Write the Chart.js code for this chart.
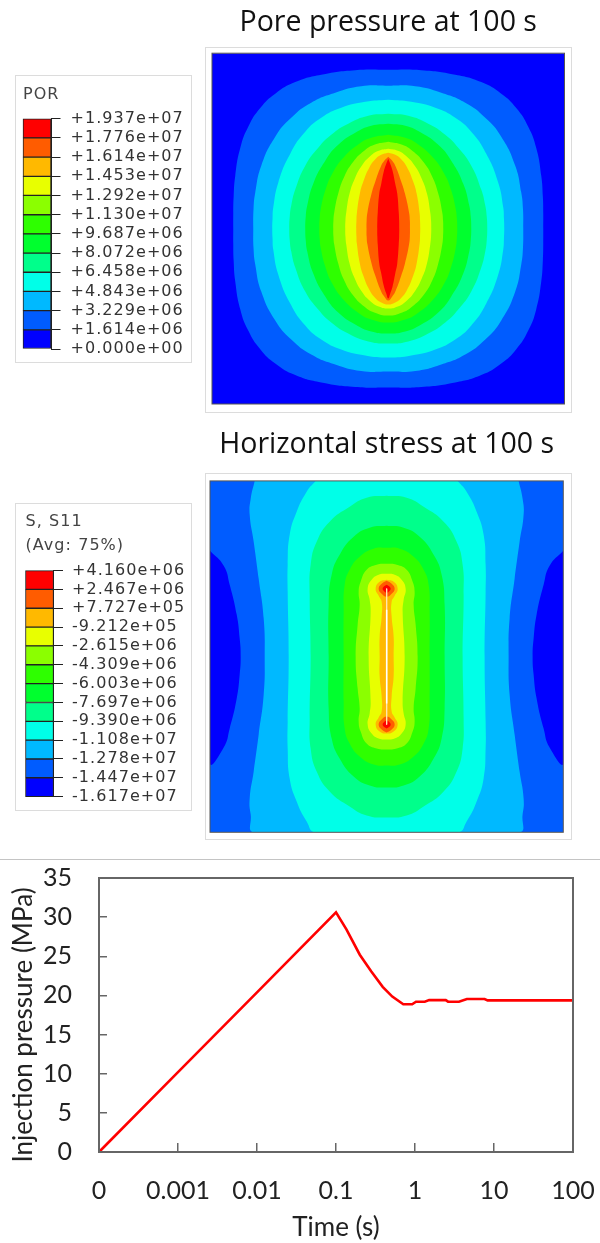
<!DOCTYPE html>
<html>
<head>
<meta charset="utf-8">
<title>Pore pressure, stress and injection pressure</title>
<script src="https://cdn.jsdelivr.net/npm/chart.js@4"></script>
<style>
  html, body { margin: 0; padding: 0; background: #fff; }
  #page { position: relative; width: 600px; height: 1243px; overflow: hidden; background: #fff; }
  #page canvas { position: absolute; }
  .frame { position: absolute; box-sizing: border-box; border: 1px solid #dcdcdc; }
  #rule { position: absolute; left: 0; top: 859px; width: 600px; height: 1px; background: #c4c4c4; }
</style>
</head>
<body>
<div id="page">
  <div class="frame" style="left:15px;top:75px;width:177px;height:288px"></div>
  <div class="frame" style="left:205px;top:47px;width:367px;height:366px"></div>
  <div class="frame" style="left:15px;top:503px;width:177px;height:308px"></div>
  <div class="frame" style="left:205px;top:473px;width:367px;height:367px"></div>
  <div id="rule"></div>
  <canvas id="por-legend" width="177" height="288" style="left:15px;top:75px"></canvas>
  <canvas id="por-plot" width="367" height="413" style="left:205px;top:0"></canvas>
  <canvas id="s11-legend" width="177" height="308" style="left:15px;top:503px"></canvas>
  <canvas id="s11-plot" width="367" height="415" style="left:205px;top:425px"></canvas>
  <canvas id="pressure" width="600" height="383" style="left:0;top:860px"></canvas>
</div>
<script>
// legend levels, low to high
const porLevels = ['+0.000e+00', '+1.614e+06', '+3.229e+06', '+4.843e+06', '+6.458e+06', '+8.072e+06', '+9.687e+06',
  '+1.130e+07', '+1.292e+07', '+1.453e+07', '+1.614e+07', '+1.776e+07', '+1.937e+07'];
const s11Levels = ['-1.617e+07', '-1.447e+07', '-1.278e+07', '-1.108e+07', '-9.390e+06', '-7.697e+06', '-6.003e+06',
  '-4.309e+06', '-2.615e+06', '-9.212e+05', '+7.727e+05', '+2.467e+06', '+4.160e+06'];
const bandColors = ['#0000ff', '#005cff', '#00b9ff', '#00ffe8', '#00ff8b', '#00ff2e', '#2eff00', '#8bff00', '#e8ff00', '#ffb900', '#ff5c00', '#ff0000'];

// contour outlines, one quarter of the plate (x, y from the plate centre)
const porPlate = [[176.25, 175.5]];
const por1 = [[0, 159], [33, 158.5], [67, 154], [93, 146.6], [113, 135], [128, 120.7], [140, 102], [148, 80.6], [153, 53], [154.6, 32], [155, 15], [155, 0]];
const por2 = [[0, 143], [27, 142.5], [53, 136], [77, 126], [97, 111], [113, 92], [127, 63], [133, 36], [134.7, 20], [135, 0]];
const por3 = [[0, 129], [23, 127], [47, 121], [67, 111], [83, 97], [98, 75], [110, 46], [115, 21], [115.7, 10], [116, 0]];
const por4 = [[0, 115], [20, 113], [40, 105], [57, 94], [70, 81], [83, 63], [93, 39], [97, 23], [98.5, 12], [99, 0]];
const por5 = [[0, 105], [17, 103], [33, 96], [50, 84], [63, 68], [75, 45], [81, 23], [82.5, 12], [83, 0]];
const por6 = [[0, 94], [17, 91], [29, 85], [44, 72], [56, 55], [63, 38], [67.4, 20], [68.6, 10], [69, 0]];
const por7 = [[0, 87], [14, 84], [24, 78], [35, 67], [44, 52], [50, 35], [54, 16], [54.8, 8], [55, 0]];
const por8 = [[0, 80], [9.5, 78], [17.6, 73], [26.5, 63], [33.5, 50], [38.7, 35], [42, 16], [42.8, 8], [43, 0]];
const por9 = [[0, 76], [7, 74], [12.5, 70], [18.5, 62], [25, 47], [28.4, 35], [31.4, 15], [31.8, 8], [32, 0]];
const por10 = [[0, 72], [4, 68], [7.5, 62], [13, 47], [16.7, 35], [20.8, 16], [21.6, 8], [21.7, 0]];
const por11 = [[0, 70], [2, 65], [4.3, 58], [7, 45], [9, 35], [10.5, 16], [10.9, 8], [11, 0]];

const s11Plate = [[176.7, 175.8]];
const s11Lobe = [[176.7, 106], [163, 91], [157, 72], [150, 42], [147, 18], [146, 0]];
const s11Band2 = [[132, 175.8], [136, 158], [137, 142], [133, 115], [128, 78], [123, 38], [122, 0]];
const s11Band3 = [[71, 175.8], [80, 165], [90, 145], [97, 122], [99, 92], [99, 65], [98, 0]];
const s11Band4 = [[0, 161], [20, 159], [37, 150], [57, 135], [70, 115], [76, 92], [77, 62], [76, 0]];
const s11Band5 = [[0, 131], [17, 129], [33, 120], [47, 102], [55, 82], [58, 52], [58, 0]];
const s11Band6 = [[0, 109], [13, 108], [27, 100], [37, 87], [42, 72], [43, 45], [43, 0]];
const s11Band7 = [[0, 93], [10, 92], [20, 87], [26, 75], [28, 65], [27, 52], [29, 32], [31, 0]];
const s11Band8 = [[0, 83], [8, 82], [15, 77], [19, 68], [17, 57], [16, 45], [18, 0]];
const s11Band9 = [[0, 77], [7, 75], [11, 68], [8, 61], [5, 55], [5, 40], [7, 20], [7, 0]];
// fracture tips, right half of the outline
const s11Tip10 = [[0, 76], [5, 73], [8, 68], [5, 63], [0, 60]];
const s11Tip11 = [[0, 72], [3, 70], [4, 68], [3, 66], [0, 64]];
const s11Slit = [[0, 68], [0, -68]];
const s11SlitOpen = [[0, 47], [0, -47]];

// injection pressure curve
const timeTicks = [0.0001, 0.001, 0.01, 0.1, 1, 10, 100];
const timeLabels = ['0', '0.001', '0.01', '0.1', '1', '10', '100'];
const times = [0.0001, 0.001, 0.01, 0.1, 0.136, 0.2, 0.28, 0.39, 0.516, 0.711, 0.92, 1.03, 1.33, 1.51, 2.45, 2.62, 3.6, 4.54, 7.6, 8.3, 100];
const pressures = [0, 10.2, 20.4, 30.6, 28.4, 25.2, 23.05, 21.1, 19.85, 18.87, 18.87, 19.2, 19.2, 19.4, 19.4, 19.2, 19.2, 19.55, 19.55, 19.37, 19.37];

function toPoints(list) {
  return list.map(p => ({x: p[0], y: p[1]}));
}

// quarter outline -> closed outline, mirrored in both axes
function ring(quarter) {
  const q1 = quarter.map(p => [p[0], p[1]]);
  const q4 = quarter.filter(p => p[1] !== 0).reverse().map(p => [p[0], -p[1]]);
  const right = q1.concat(q4);
  const left = right.filter(p => p[0] !== 0).reverse().map(p => [-p[0], p[1]]);
  const all = right.concat(left);
  if (quarter[0][0] === 0) all.push(all[0]);
  return all;
}

// right half of an outline -> closed outline, mirrored in x
function loop(half, flip) {
  const left = half.filter(p => p[0] !== 0).reverse().map(p => [-p[0], p[1]]);
  const all = half.concat(left);
  all.push(all[0]);
  return flip ? all.map(p => [p[0], -p[1]]) : all;
}

function band(list, color) {
  return {
    data: toPoints(list),
    showLine: true,
    fill: 'shape',
    tension: 0.5,
    backgroundColor: color,
    borderWidth: 0,
    pointRadius: 0
  };
}

function slit(list, color, width) {
  return {data: toPoints(list), showLine: true, borderColor: color, borderWidth: width, pointRadius: 0};
}

const boxBorder = {
  id: 'boxBorder',
  afterDraw(chart, args, opts) {
    const a = chart.chartArea;
    chart.ctx.save();
    chart.ctx.strokeStyle = opts.color;
    chart.ctx.lineWidth = opts.width;
    chart.ctx.strokeRect(a.left, a.top, a.right - a.left, a.bottom - a.top);
    chart.ctx.restore();
  }
};

const spacedText = {
  id: 'spacedText',
  beforeDraw(chart) { chart.ctx.letterSpacing = '1.05px'; }
};

function contourChart(id, title, plate, datasets, padding, titlePadding) {
  return new Chart(document.getElementById(id), {
    type: 'scatter',
    // first dataset is painted last, so the innermost band goes first
    data: {datasets: datasets.slice().reverse()},
    options: {
      responsive: false,
      animation: false,
      events: [],
      devicePixelRatio: 1,
      layout: {padding: padding},
      scales: {
        x: {display: false, min: -plate[0][0], max: plate[0][0]},
        y: {display: false, min: -plate[0][1], max: plate[0][1]}
      },
      plugins: {
        legend: {display: false},
        tooltip: {enabled: false},
        title: {
          display: true,
          text: title,
          color: '#111',
          padding: titlePadding,
          font: {family: 'Open Sans', size: 28.5, weight: 'normal', lineHeight: 1.2}
        },
        boxBorder: {color: '#555', width: 1}
      }
    },
    plugins: [boxBorder]
  });
}

function legendChart(id, title, levels, padding, titlePadding, axisWidth, tickPadding) {
  const values = levels.map(Number);
  const datasets = bandColors.map((color, i) => ({
    data: [[values[i], values[i + 1]]],
    backgroundColor: color,
    borderColor: '#222',
    borderWidth: 1,
    borderSkipped: false,
    clip: false,
    barPercentage: 1,
    categoryPercentage: 1,
    grouped: false
  }));
  return new Chart(document.getElementById(id), {
    type: 'bar',
    data: {labels: [''], datasets: datasets},
    options: {
      responsive: false,
      animation: false,
      events: [],
      devicePixelRatio: 1,
      layout: {padding: padding},
      scales: {
        x: {display: false},
        y: {
          position: 'right',
          min: values[0],
          max: values[values.length - 1],
          afterFit(axis) { axis.width = axisWidth; axis.paddingTop = 0; axis.paddingBottom = 0; },
          afterBuildTicks(axis) { axis.ticks = values.map(v => ({value: v})); },
          grid: {drawOnChartArea: false, color: '#222', tickLength: 9.5},
          border: {color: '#222'},
          ticks: {
            autoSkip: false,
            padding: tickPadding,
            color: '#333',
            font: {family: 'DejaVu Sans', size: 16},
            callback: (v, i) => levels[i]
          }
        }
      },
      plugins: {
        legend: {display: false},
        tooltip: {enabled: false},
        title: {
          display: true,
          text: title,
          align: 'start',
          color: '#444',
          padding: titlePadding,
          font: {family: 'DejaVu Sans', size: 16, weight: 'normal', lineHeight: 1.55}
        }
      }
    },
    plugins: [spacedText]
  });
}

legendChart('por-legend', 'POR', porLevels, {left: 8, top: 0, bottom: 14}, {top: 7, bottom: 12}, 141, 10);
legendChart('s11-legend', ['S, S11', '(Avg: 75%)'], s11Levels, {left: 10.5, top: 0, bottom: 14.3}, {top: 6, bottom: 12}, 138.5, 9);

const porOutlines = [por1, por2, por3, por4, por5, por6, por7, por8, por9, por10, por11];
contourChart('por-plot', 'Pore pressure at 100 s', porPlate,
  [band(ring(porPlate), bandColors[0])].concat(porOutlines.map((o, i) => band(ring(o), bandColors[i + 1]))),
  {left: 7, right: 7.5, bottom: 9}, {top: 6, bottom: 13});

const s11Outlines = [s11Band2, s11Band3, s11Band4, s11Band5, s11Band6, s11Band7, s11Band8, s11Band9];
contourChart('s11-plot', 'Horizontal stress at 100 s', s11Plate,
  [band(ring(s11Plate), bandColors[1]),
   band(loop(s11Lobe.map(p => [p[1], p[0]])).map(p => [p[1], p[0]]), bandColors[0]),
   band(loop(s11Lobe.map(p => [p[1], p[0]])).map(p => [-p[1], p[0]]), bandColors[0])]
    .concat(s11Outlines.map((o, i) => band(ring(o), bandColors[i + 2])))
    .concat([
      band(loop(s11Tip10), bandColors[10]), band(loop(s11Tip10, true), bandColors[10]),
      band(loop(s11Tip11), bandColors[11]), band(loop(s11Tip11, true), bandColors[11]),
      slit(s11Slit, '#ffe6b0', 1), slit(s11SlitOpen, '#ffffff', 1.5)
    ]),
  {left: 5, right: 8.7, bottom: 7.7}, {top: 3, bottom: 18.7});

new Chart(document.getElementById('pressure'), {
  type: 'line',
  data: {
    datasets: [{
      data: times.map((t, i) => ({x: t, y: pressures[i]})),
      borderColor: '#ff0000',
      borderWidth: 2.6,
      pointRadius: 0,
      clip: false
    }]
  },
  options: {
    responsive: false,
    animation: false,
    events: [],
    devicePixelRatio: 1,
    layout: {padding: {top: 18, right: 27, bottom: 0, left: 0}},
    scales: {
      x: {
        type: 'logarithmic',
        min: 0.0001,
        max: 100,
        afterFit(axis) { axis.height = 91; axis.paddingLeft = 0; axis.paddingRight = 0; },
        afterBuildTicks(axis) { axis.ticks = timeTicks.map(v => ({value: v})); },
        grid: {drawOnChartArea: false, color: '#666', lineWidth: 1.5, tickLength: -9},
        border: {color: '#666', width: 2},
        ticks: {
          autoSkip: false,
          maxRotation: 0,
          padding: 33,
          color: '#222',
          font: {family: 'Lato', size: 25},
          callback: (v, i) => timeLabels[i]
        },
        title: {display: true, text: 'Time (s)', color: '#222', padding: {top: 0, bottom: 0},
          font: {family: 'Lato', size: 26, lineHeight: 1.2}}
      },
      y: {
        min: 0,
        max: 35,
        afterFit(axis) { axis.width = 99; axis.paddingTop = 0; axis.paddingBottom = 0; },
        grid: {drawOnChartArea: false, color: '#666', lineWidth: 1.5, tickLength: -8},
        border: {color: '#666', width: 2},
        ticks: {
          stepSize: 5,
          padding: 35,
          color: '#222',
          font: {family: 'Lato', size: 25}
        },
        // trailing spaces push the rotated title down to where the reference has it
        title: {display: true, text: 'Injection pressure (MPa)   ', color: '#222', padding: {top: 8, bottom: 0},
          font: {family: 'Lato', size: 26, lineHeight: 1.2}}
      }
    },
    plugins: {
      legend: {display: false},
      tooltip: {enabled: false},
      boxBorder: {color: '#666', width: 2}
    }
  },
  plugins: [boxBorder]
});
</script>
</body>
</html>
